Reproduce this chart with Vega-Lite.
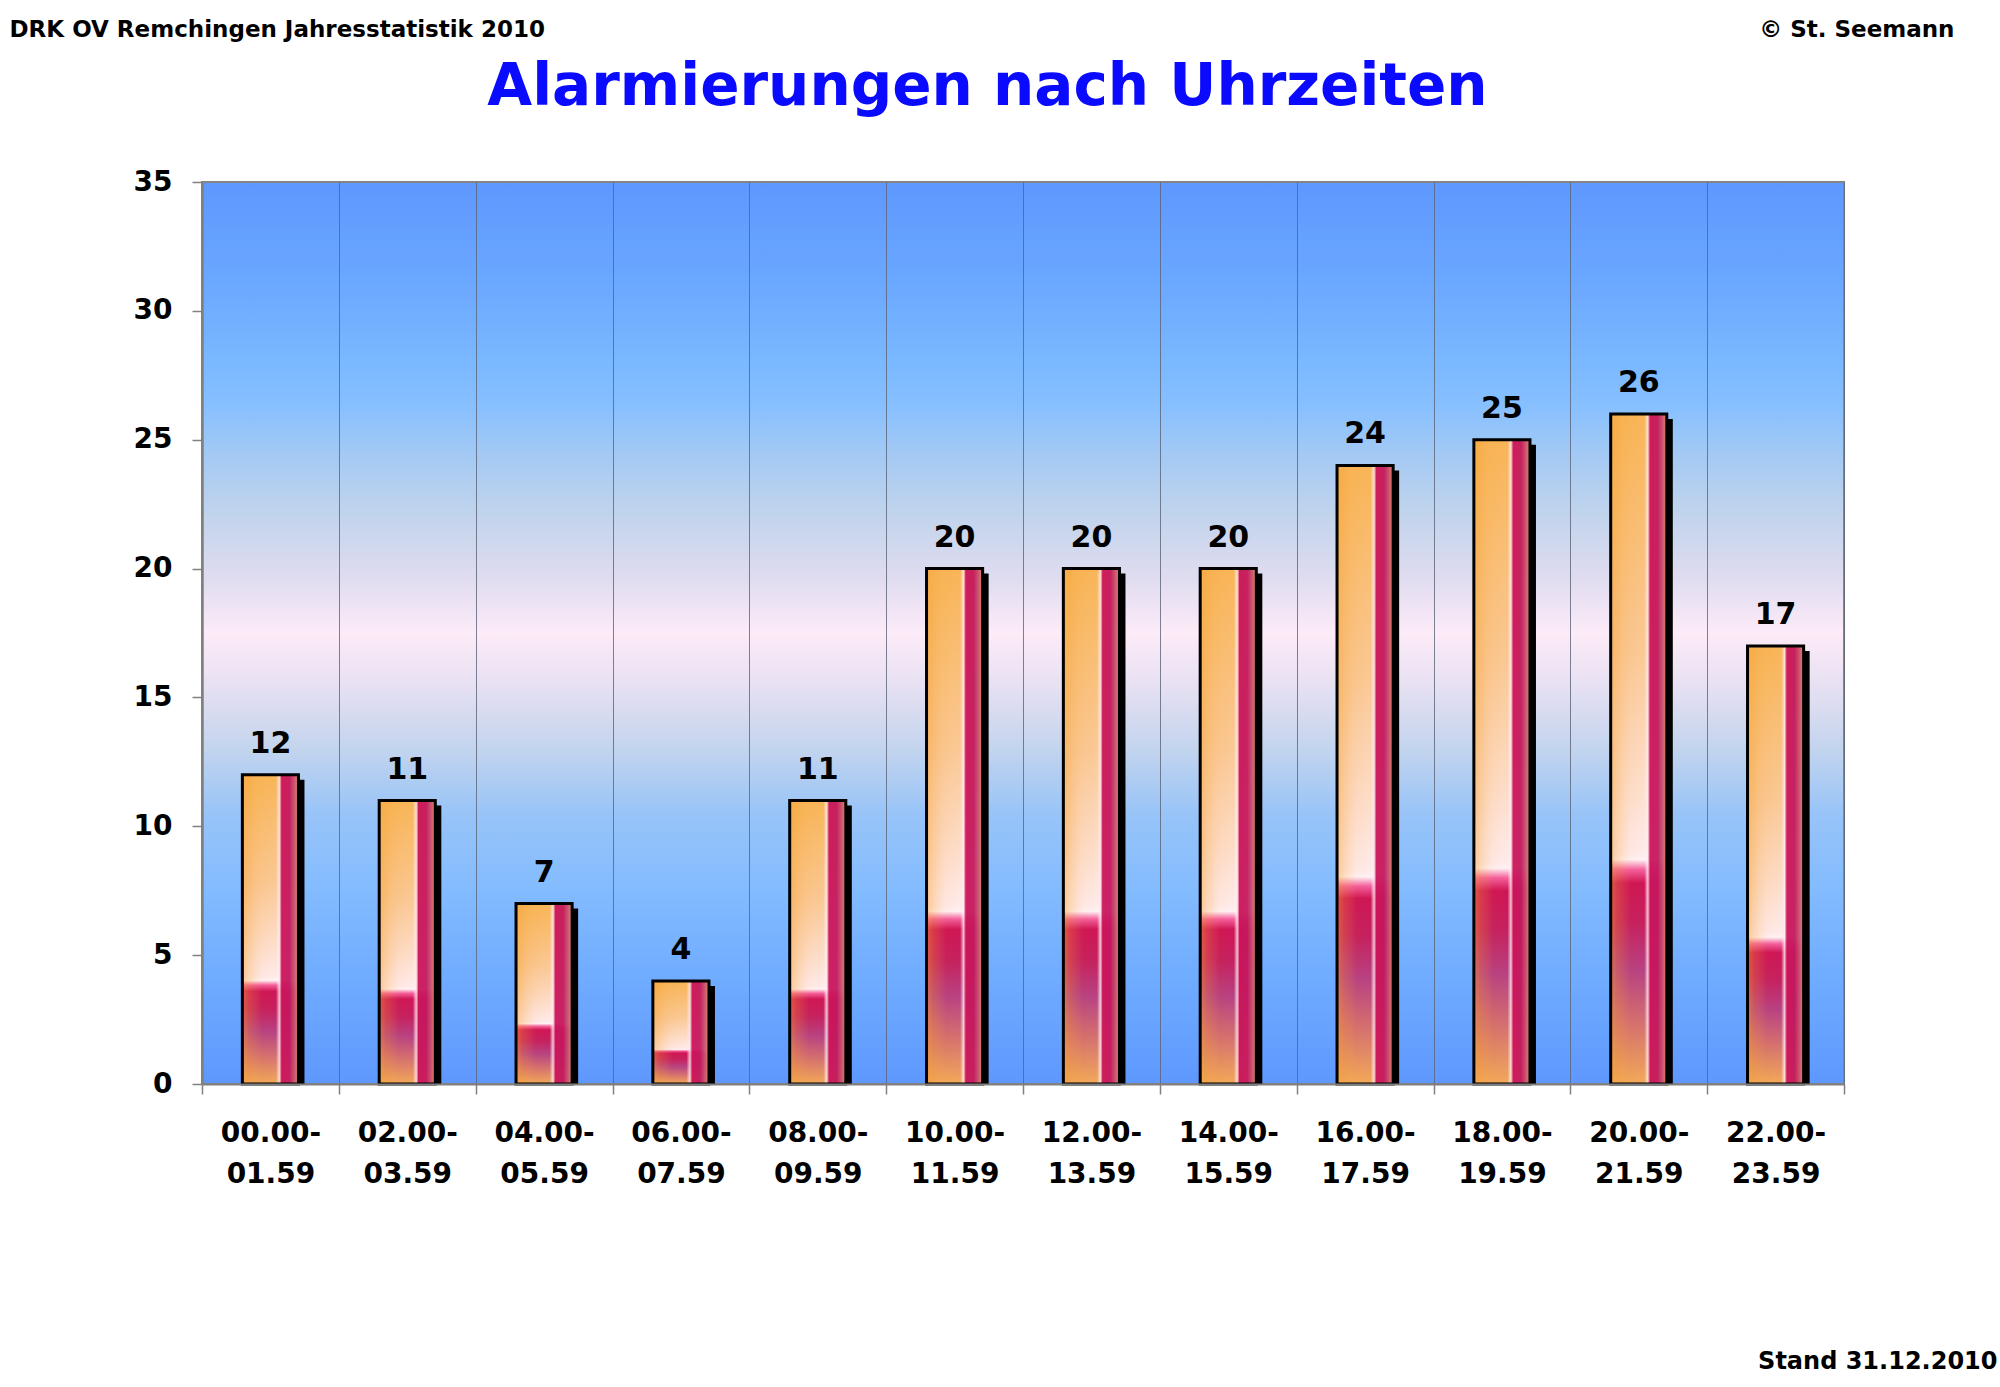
{
  "$schema": "https://vega.github.io/schema/vega-lite/v6.json",
  "autosize": "none",
  "padding": {"left": 202, "top": 182, "right": 156, "bottom": 303},
  "width": 1642,
  "height": 902,
  "background": "white",
  "data": {
    "values": [
      {"zeit": "00.00-01.59", "anzahl": 12},
      {"zeit": "02.00-03.59", "anzahl": 11},
      {"zeit": "04.00-05.59", "anzahl": 7},
      {"zeit": "06.00-07.59", "anzahl": 4},
      {"zeit": "08.00-09.59", "anzahl": 11},
      {"zeit": "10.00-11.59", "anzahl": 20},
      {"zeit": "12.00-13.59", "anzahl": 20},
      {"zeit": "14.00-15.59", "anzahl": 20},
      {"zeit": "16.00-17.59", "anzahl": 24},
      {"zeit": "18.00-19.59", "anzahl": 25},
      {"zeit": "20.00-21.59", "anzahl": 26},
      {"zeit": "22.00-23.59", "anzahl": 17}
    ]
  },
  "layer": [
    {
      "data": {"values": [{}]},
      "mark": {
        "type": "rect",
        "stroke": "#858585",
        "strokeWidth": 2,
        "fill": {
          "gradient": "linear",
          "x1": 0, "y1": 0, "x2": 0, "y2": 1,
          "stops": [
            {"offset": 0, "color": "#5e98fe"},
            {"offset": 0.1, "color": "#69a6ff"},
            {"offset": 0.2, "color": "#7ab8ff"},
            {"offset": 0.25, "color": "#88c0ff"},
            {"offset": 0.3, "color": "#a2c9f4"},
            {"offset": 0.37, "color": "#c2d4ec"},
            {"offset": 0.44, "color": "#e0dcf0"},
            {"offset": 0.5, "color": "#fdebf8"},
            {"offset": 0.56, "color": "#e6e0f2"},
            {"offset": 0.63, "color": "#c2d4ee"},
            {"offset": 0.7, "color": "#98c4f8"},
            {"offset": 0.78, "color": "#84bcff"},
            {"offset": 0.88, "color": "#70acff"},
            {"offset": 1, "color": "#5e98fe"}
          ]
        }
      },
      "encoding": {
        "y": {"datum": 35, "type": "quantitative", "scale": {"domain": [0, 35], "nice": false}, "axis": null},
        "y2": {"datum": 0}
      }
    },
    {
      "mark": {"type": "bar", "color": "black", "clip": true, "width": {"band": 0.41}, "xOffset": 6, "x2Offset": 6, "yOffset": 5},
      "encoding": {
        "x": {"field": "zeit", "type": "nominal", "sort": null, "scale": {"paddingInner": 0, "paddingOuter": 0}, "axis": null},
        "y": {"field": "anzahl", "type": "quantitative", "axis": null}
      }
    },
    {
      "mark": {
        "type": "bar",
        "width": {"band": 0.41},
        "fill": {
          "gradient": "linear",
          "x1": 0, "y1": 0, "x2": 0, "y2": 1,
          "stops": [
            {"offset": 0, "color": "#f8b250"},
            {"offset": 0.35, "color": "#fac690"},
            {"offset": 0.55, "color": "#fddcc8"},
            {"offset": 0.655, "color": "#ffeaea"},
            {"offset": 0.665, "color": "#fff2f6"},
            {"offset": 0.68, "color": "#f4589a"},
            {"offset": 0.7, "color": "#cc0a4e"},
            {"offset": 0.76, "color": "#c21558"},
            {"offset": 0.83, "color": "#b4387e"},
            {"offset": 0.91, "color": "#d26a6a"},
            {"offset": 1, "color": "#f2a652"}
          ]
        }
      },
      "encoding": {
        "x": {"field": "zeit", "type": "nominal", "sort": null, "axis": null},
        "y": {"field": "anzahl", "type": "quantitative", "axis": null}
      }
    },
    {
      "mark": {
        "type": "bar",
        "width": {"band": 0.41},
        "stroke": "black",
        "strokeWidth": 3,
        "fill": {
          "gradient": "linear",
          "x1": 0, "y1": 0, "x2": 1, "y2": 0,
          "stops": [
            {"offset": 0, "color": "rgba(246,166,60,0.5)"},
            {"offset": 0.12, "color": "rgba(246,166,60,0.3)"},
            {"offset": 0.35, "color": "rgba(248,190,120,0.08)"},
            {"offset": 0.6, "color": "rgba(255,240,240,0.05)"},
            {"offset": 0.66, "color": "rgba(255,235,240,0.8)"},
            {"offset": 0.7, "color": "rgba(205,20,90,0.95)"},
            {"offset": 0.84, "color": "rgba(195,25,95,0.95)"},
            {"offset": 0.93, "color": "rgba(200,85,115,0.95)"},
            {"offset": 1, "color": "rgba(230,140,90,1)"}
          ]
        }
      },
      "encoding": {
        "x": {
          "field": "zeit",
          "type": "nominal",
          "sort": null,
          "axis": {
            "orient": "bottom",
            "zindex": 1,
            "labelAngle": 0,
            "labelExpr": "[substring(datum.label, 0, 6), substring(datum.label, 6)]",
            "labelFont": "DejaVu Sans",
            "labelFontWeight": "bold",
            "labelFontSize": 28,
            "labelColor": "black",
            "labelLineHeight": 41,
            "labelBaseline": "top",
            "labelPadding": 25,
            "tickBand": "extent",
            "tickSize": 10,
            "tickColor": "#808080",
            "tickWidth": 1.5,
            "domainColor": "#808080",
            "domainWidth": 2,
            "grid": true,
            "gridColor": "#5b6478",
            "gridWidth": 1,
            "gridOpacity": 0.8,
            "title": "Stand 31.12.2010",
            "titleFont": "DejaVu Sans",
            "titleFontWeight": "bold",
            "titleFontSize": 24,
            "titleColor": "black",
            "titleAlign": "right",
            "titleBaseline": "alphabetic",
            "titleX": 1795,
            "titleY": 284
          }
        },
        "y": {
          "field": "anzahl",
          "type": "quantitative",
          "axis": {
            "orient": "left",
            "zindex": 1,
            "values": [0, 5, 10, 15, 20, 25, 30, 35],
            "grid": false,
            "labelFont": "DejaVu Sans",
            "labelFontWeight": "bold",
            "labelFontSize": 28,
            "labelColor": "black",
            "labelPadding": 20,
            "tickSize": 10,
            "tickColor": "#808080",
            "tickWidth": 1.5,
            "domainColor": "#808080",
            "domainWidth": 2.5,
            "title": "DRK OV Remchingen Jahresstatistik 2010",
            "titleFont": "DejaVu Sans",
            "titleFontWeight": "bold",
            "titleFontSize": 23,
            "titleColor": "black",
            "titleAngle": 0,
            "titleAlign": "left",
            "titleBaseline": "alphabetic",
            "titleX": -193,
            "titleY": -146
          }
        }
      }
    },
    {
      "mark": {
        "type": "text",
        "font": "DejaVu Sans",
        "fontWeight": "bold",
        "fontSize": 30,
        "color": "black",
        "baseline": "alphabetic",
        "dy": -22
      },
      "encoding": {
        "x": {
          "field": "zeit",
          "type": "nominal",
          "sort": null,
          "axis": {
            "orient": "top",
            "labels": false,
            "ticks": false,
            "domain": false,
            "grid": false,
            "title": "Alarmierungen nach Uhrzeiten",
            "titleFont": "DejaVu Sans",
            "titleFontWeight": "bold",
            "titleFontSize": 58,
            "titleColor": "#0a0aff",
            "titleAlign": "center",
            "titleBaseline": "alphabetic",
            "titleX": 785,
            "titleY": -78
          }
        },
        "y": {
          "field": "anzahl",
          "type": "quantitative",
          "axis": {
            "orient": "right",
            "labels": false,
            "ticks": false,
            "domain": false,
            "grid": false,
            "title": "© St. Seemann",
            "titleFont": "DejaVu Sans",
            "titleFontWeight": "bold",
            "titleFontSize": 23,
            "titleColor": "black",
            "titleAngle": 0,
            "titleAlign": "right",
            "titleBaseline": "alphabetic",
            "titleX": 110,
            "titleY": -146
          }
        },
        "text": {"field": "anzahl", "type": "quantitative"}
      }
    }
  ],
  "resolve": {"axis": {"x": "independent", "y": "independent"}},
  "config": {"view": {"stroke": null}}
}
